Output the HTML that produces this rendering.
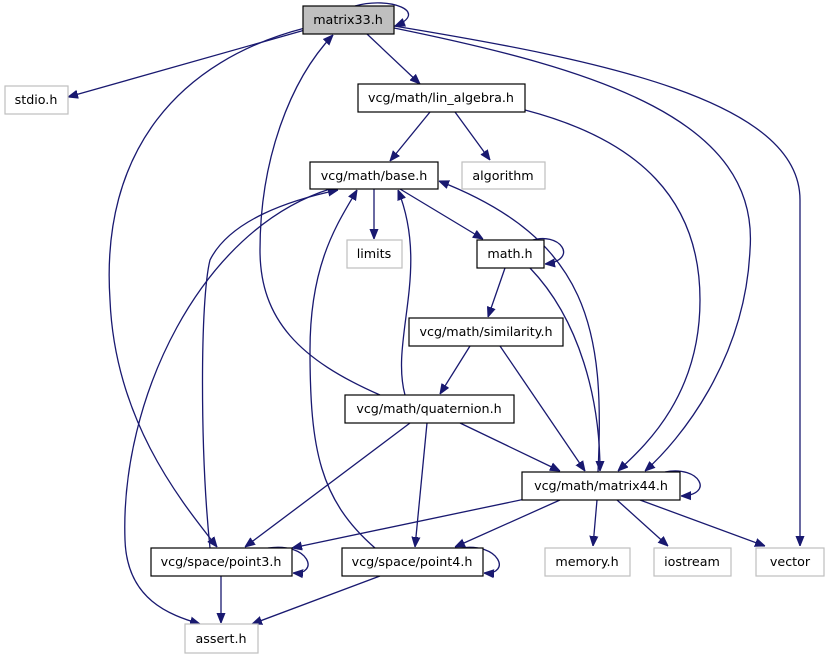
<!DOCTYPE html>
<html><head><meta charset="utf-8"><style>
html,body{margin:0;padding:0;background:#fff;}
svg{display:block;}
text{font-family:"DejaVu Sans","Liberation Sans",sans-serif;font-size:12.7px;fill:#000;text-anchor:middle;}
.e{fill:none;stroke:#191970;stroke-width:1.3;marker-end:url(#a);}
.n{fill:#fff;stroke:#000;stroke-width:1.2;}
.g{fill:#fff;stroke:#bfbfbf;stroke-width:1.2;}
</style></head><body>
<svg width="829" height="659" viewBox="0 0 829 659" xmlns="http://www.w3.org/2000/svg">
<defs><marker id="a" viewBox="0 0 10 10" refX="10" refY="5" markerWidth="10" markerHeight="10" markerUnits="userSpaceOnUse" orient="auto"><path d="M0,1 L10,5 L0,9 z" fill="#191970" stroke="#191970"/></marker></defs>
<path class="e" d="M305,30 L68,97"/>
<path class="e" d="M367,34 L420,84"/>
<path class="e" d="M305,28 C180,60 100,150 110,300 C115,420 180,500 217,547"/>
<path class="e" d="M394,28 C600,70 760,120 750,250 C745,360 680,440 645,471"/>
<path class="e" d="M394,26 C600,60 800,100 800,200 L800,546"/>
<path class="e" d="M355,6 C390,-4 430,12 395,26"/>
<path class="e" d="M430,112 L390,161"/>
<path class="e" d="M455,112 L490,160"/>
<path class="e" d="M525,110 C640,140 700,200 700,300 C700,400 640,450 618,471"/>
<path class="e" d="M374,189 L374,239"/>
<path class="e" d="M400,189 L483,239"/>
<path class="e" d="M330,189 C200,230 120,400 125,540 C127,600 170,615 200,624"/>
<path class="e" d="M380,395 C300,360 260,320 260,250 C260,160 290,80 333,35"/>
<path class="e" d="M405,395 C390,340 430,270 398,190"/>
<path class="e" d="M210,548 C200,450 200,300 210,260 C230,220 290,200 338,190"/>
<path class="e" d="M375,548 C320,500 310,450 310,350 C310,260 340,220 357,190"/>
<path class="e" d="M598,472 C605,330 590,240 439,181"/>
<path class="e" d="M530,241 C560,230 580,260 545,264"/>
<path class="e" d="M505,268 L488,317"/>
<path class="e" d="M530,268 C580,320 600,400 600,471"/>
<path class="e" d="M470,346 L440,394"/>
<path class="e" d="M500,346 L585,471"/>
<path class="e" d="M460,423 L560,471"/>
<path class="e" d="M410,423 L245,547"/>
<path class="e" d="M427,423 L415,547"/>
<path class="e" d="M665,472 C700,465 715,495 681,496"/>
<path class="e" d="M530,498 L292,548"/>
<path class="e" d="M560,500 L455,547"/>
<path class="e" d="M597,500 L593,546"/>
<path class="e" d="M617,500 L668,546"/>
<path class="e" d="M640,500 L765,546"/>
<path class="e" d="M268,548 C310,542 320,575 293,573"/>
<path class="e" d="M460,548 C500,542 512,575 484,573"/>
<path class="e" d="M221,576 L221,623"/>
<path class="e" d="M380,576 L252,624"/>
<rect x="303" y="6" width="91" height="28" fill="#bfbfbf" stroke="#000" stroke-width="1.2"/><text x="348" y="24">matrix33.h</text>
<rect class="g" x="5" y="86" width="63" height="28"/><text x="36" y="104">stdio.h</text>
<rect class="n" x="358" y="84" width="167" height="28"/><text x="441" y="102">vcg/math/lin_algebra.h</text>
<rect class="n" x="310" y="162" width="128" height="27"/><text x="374" y="180">vcg/math/base.h</text>
<rect class="g" x="462" y="162" width="83" height="27"/><text x="503" y="180">algorithm</text>
<rect class="g" x="347" y="240" width="55" height="28"/><text x="374" y="258">limits</text>
<rect class="n" x="477" y="240" width="67" height="28"/><text x="510" y="258">math.h</text>
<rect class="n" x="409" y="318" width="154" height="28"/><text x="486" y="336">vcg/math/similarity.h</text>
<rect class="n" x="345" y="395" width="169" height="28"/><text x="429" y="413">vcg/math/quaternion.h</text>
<rect class="n" x="522" y="472" width="158" height="28"/><text x="601" y="490">vcg/math/matrix44.h</text>
<rect class="n" x="151" y="548" width="141" height="28"/><text x="221" y="566">vcg/space/point3.h</text>
<rect class="n" x="342" y="548" width="141" height="28"/><text x="412" y="566">vcg/space/point4.h</text>
<rect class="g" x="545" y="548" width="85" height="28"/><text x="587" y="566">memory.h</text>
<rect class="g" x="654" y="548" width="77" height="28"/><text x="692" y="566">iostream</text>
<rect class="g" x="756" y="548" width="68" height="28"/><text x="790" y="566">vector</text>
<rect class="g" x="185" y="624" width="73" height="29"/><text x="221" y="643">assert.h</text>
</svg>
</body></html>
